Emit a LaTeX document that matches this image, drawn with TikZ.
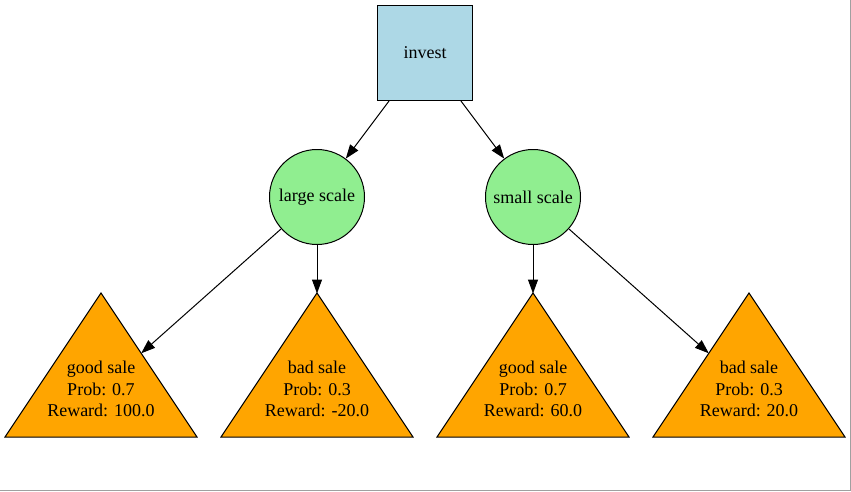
\documentclass[tikz,border=0pt]{standalone}
\usepackage{fontspec}
\setmainfont{Liberation Serif}
\usetikzlibrary{arrows.meta}
\definecolor{lblue}{HTML}{ADD8E6}
\definecolor{lgreen}{HTML}{90EE90}
\definecolor{orangeT}{HTML}{FFA500}
\definecolor{frame}{HTML}{A0A0A0}
\begin{document}
\begin{tikzpicture}[x=1pt,y=-1pt,
  txt/.style={font=\fontsize{18}{21.7}\selectfont, align=center, inner sep=0},
  sqbox/.style={draw, fill=lblue, minimum size=95pt, inner sep=0, line width=1pt, txt},
  chance/.style={circle, draw, fill=lgreen, minimum size=95pt, inner sep=0, line width=1pt, txt},
  tri/.style={draw, fill=orangeT, line width=1pt, line join=miter},
  conn/.style={-{Triangle[length=14pt,width=10pt]}, line width=1pt}]
\useasboundingbox (0,0) rectangle (851,491);
\fill[white] (0,0) rectangle (851,491);
\draw[frame, line width=1pt] (850.5,0) -- (850.5,490.5) -- (0,490.5);

% decision node
\node[sqbox] (inv) at (425,53) {invest};

% chance nodes
\node[chance] (ls) at (317,197) {large scale};
\node[chance] (ss) at (533,197) {small scale};

% outcome triangles
\draw[tri] (5,437) -- (101,293) -- (197,437) -- cycle;
\draw[tri] (221,437) -- (317,293) -- (413,437) -- cycle;
\draw[tri] (437,437) -- (533,293) -- (629,437) -- cycle;
\draw[tri] (653,437) -- (749,293) -- (845,437) -- cycle;

\node[txt] (gs1) at (101,389) {good sale\\Prob: 0.7\\Reward: 100.0};
\node[txt] (bs1) at (317,389) {bad sale\\Prob: 0.3\\Reward: -20.0};
\node[txt] (gs2) at (533,389) {good sale\\Prob: 0.7\\Reward: 60.0};
\node[txt] (bs2) at (749,389) {bad sale\\Prob: 0.3\\Reward: 20.0};

% connector endpoints on triangle borders
\coordinate (gs1in) at (141.2,353.3);
\coordinate (bs1in) at (317,293.5);
\coordinate (gs2in) at (533,293.5);
\coordinate (bs2in) at (708.8,353.3);

% connectors
\draw[conn] (inv) -- (ls);
\draw[conn] (inv) -- (ss);
\draw[conn] (ls) -- (gs1in);
\draw[conn] (ls) -- (bs1in);
\draw[conn] (ss) -- (gs2in);
\draw[conn] (ss) -- (bs2in);
\end{tikzpicture}
\end{document}
